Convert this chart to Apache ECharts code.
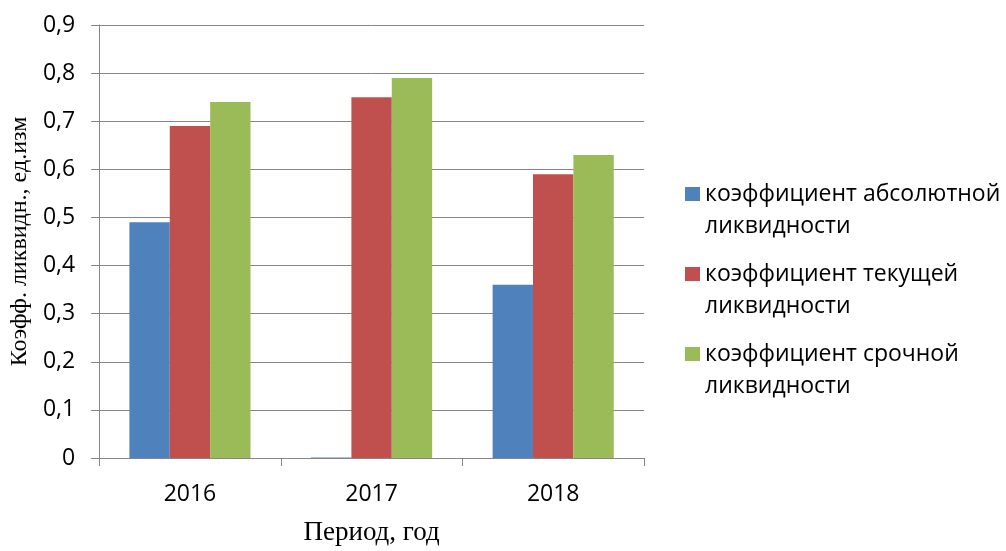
<!DOCTYPE html>
<html>
<head>
<meta charset="utf-8">
<script src="https://cdn.jsdelivr.net/npm/echarts@6/dist/echarts.min.js"></script>
<style>
  html, body { margin: 0; padding: 0; background: #fff; }
  #chart { width: 1006px; height: 551px; }
</style>
</head>
<body>
<div id="chart"></div>
<script>
const years = ['2016', '2017', '2018']
const seriesNames = [
  'коэффициент абсолютной\nликвидности',
  'коэффициент текущей\nликвидности',
  'коэффициент срочной\nликвидности'
]
const absLiq = [0.49, 0.001, 0.36]
const curLiq = [0.69, 0.75, 0.59]
const quickLiq = [0.74, 0.79, 0.63]
const yTicks = [0, 0.1, 0.2, 0.3, 0.4, 0.5, 0.6, 0.7, 0.8, 0.9]

const chart = echarts.init(document.getElementById('chart'))
const lineColor = '#868686'
const labelFont = 'Open Sans'

const option = {
  animation: false,
  color: ['#4f81bd', '#c0504d', '#9bbb59'],
  grid: {
    left: 99,
    right: 362,
    top: 25,
    bottom: 87
  },
  legend: {
    orient: 'vertical',
    left: 680,
    top: 141,
    itemWidth: 15,
    itemHeight: 14,
    itemGap: -16,
    icon: 'rect',
    data: seriesNames,
    // пустая первая строка, чтобы маркер стоял напротив первой строки текста
    formatter: name => '\n' + name,
    textStyle: {
      fontFamily: labelFont,
      fontSize: 23,
      color: '#000',
      lineHeight: 32
    }
  },
  xAxis: {
    type: 'category',
    data: years,
    name: 'Период, год',
    nameLocation: 'middle',
    nameGap: 61,
    nameTextStyle: {fontFamily: 'Liberation Serif', fontSize: 27, color: '#000'},
    axisLine: {lineStyle: {color: lineColor, width: 1}},
    axisTick: {show: true, length: 8, lineStyle: {color: lineColor}},
    axisLabel: {fontFamily: labelFont, fontSize: 23, color: '#000', margin: 25}
  },
  yAxis: {
    type: 'value',
    min: 0,
    max: 0.9,
    interval: 0.1,
    name: 'Коэфф. ликвидн., ед.изм',
    nameLocation: 'middle',
    nameGap: 66,
    nameTextStyle: {fontFamily: 'Liberation Serif', fontSize: 24, color: '#000'},
    axisLine: {show: true, lineStyle: {color: lineColor, width: 1}},
    axisTick: {show: true, length: 8, lineStyle: {color: lineColor}},
    axisLabel: {
      fontFamily: labelFont,
      fontSize: 23,
      color: '#000',
      margin: 24,
      formatter: v => {
        const t = yTicks.find(x => Math.abs(x - v) < 1e-9)
        return t === 0 ? '0' : String(+v.toFixed(1)).replace('.', ',')
      }
    },
    splitLine: {show: true, lineStyle: {color: lineColor, width: 1}}
  },
  series: [
    {name: seriesNames[0], type: 'bar', data: absLiq, barGap: '0%', barCategoryGap: '33.3%'},
    {name: seriesNames[1], type: 'bar', data: curLiq, barGap: '0%', barCategoryGap: '33.3%'},
    {name: seriesNames[2], type: 'bar', data: quickLiq, barGap: '0%', barCategoryGap: '33.3%'}
  ]
}
chart.setOption(option)
</script>
</body>
</html>
